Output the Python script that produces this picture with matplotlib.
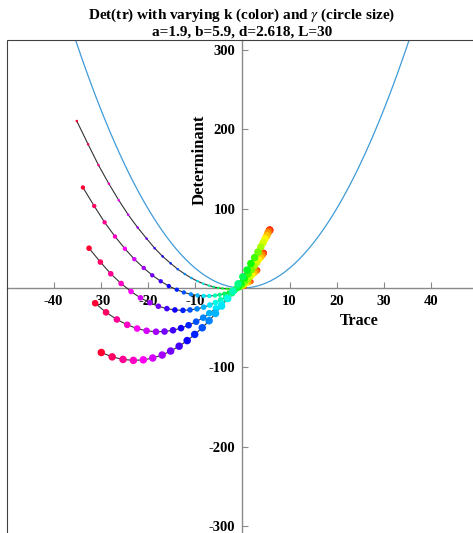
import colorsys
import numpy as np
import matplotlib
matplotlib.use("Agg")
import matplotlib.pyplot as plt
from matplotlib.patches import Rectangle

plt.rcParams['font.family'] = ['Liberation Serif', 'DejaVu Serif']
plt.rcParams['mathtext.fontset'] = 'stix'
plt.rcParams['axes.unicode_minus'] = False

# mode index n (k = n*pi/L), one dot per n on every curve
modes = list(range(31))

# circle size parameter of each curve
gammas = [0.5, 1.5, 2.5, 3.5, 4.5]

# trace / determinant, one list per gamma
tr_g1 = [0.6, 0.6, 0.5, 0.3, 0.0, -0.3, -0.8, -1.3, -1.9, -2.6, -3.3, -4.2, -5.1, -6.1, -7.1,
         -8.3, -9.5, -10.8, -12.2, -13.7, -15.2, -16.9, -18.6, -20.3, -22.2, -24.2, -26.2,
         -28.3, -30.5, -32.7, -35.1]
det_g1 = [0.90, 0.85, 0.71, 0.47, 0.17, -0.16, -0.51, -0.82, -1.04, -1.13, -1.00, -0.60, 0.15,
          1.35, 3.09, 5.47, 8.60, 12.59, 17.58, 23.69, 31.06, 39.84, 50.19, 62.27, 76.24, 92.30,
          110.61, 131.37, 154.79, 181.07, 210.43]

tr_g2 = [1.9, 1.9, 1.8, 1.6, 1.3, 0.9, 0.5, 0.0, -0.6, -1.3, -2.0, -2.9, -3.8, -4.8, -5.8,
         -7.0, -8.2, -9.5, -10.9, -12.4, -13.9, -15.6, -17.3, -19.1, -20.9, -22.9, -24.9,
         -27.0, -29.2, -31.4, -33.8]
det_g2 = [8.12, 7.97, 7.52, 6.78, 5.78, 4.53, 3.07, 1.45, -0.29, -2.09, -3.89, -5.62, -7.18,
          -8.51, -9.50, -10.06, -10.06, -9.40, -7.96, -5.59, -2.16, 2.48, 8.48, 16.01, 25.24,
          36.34, 49.49, 64.90, 82.76, 103.28, 126.67]

tr_g3 = [3.2, 3.2, 3.1, 2.9, 2.6, 2.2, 1.8, 1.3, 0.7, 0.0, -0.7, -1.6, -2.5, -3.5, -4.6,
         -5.7, -6.9, -8.2, -9.6, -11.1, -12.6, -14.3, -16.0, -17.8, -19.6, -21.6, -23.6,
         -25.7, -27.9, -30.1, -32.5]
det_g3 = [22.56, 22.31, 21.56, 20.31, 18.60, 16.44, 13.87, 10.94, 7.68, 4.16, 0.44, -3.41,
          -7.30, -11.16, -14.88, -18.36, -21.50, -24.18, -26.27, -27.64, -28.15, -27.66,
          -26.00, -23.02, -18.55, -12.40, -4.40, 5.65, 17.94, 32.70, 50.13]

tr_g4 = [4.5, 4.5, 4.4, 4.2, 3.9, 3.5, 3.1, 2.6, 2.0, 1.3, 0.5, -0.3, -1.2, -2.2, -3.3,
         -4.4, -5.6, -7.0, -8.3, -9.8, -11.4, -13.0, -14.7, -16.5, -18.3, -20.3, -22.3,
         -24.4, -26.6, -28.9, -31.2]
det_g4 = [44.22, 43.87, 42.81, 41.06, 38.64, 35.57, 31.89, 27.64, 22.87, 17.63, 11.99, 6.02,
          -0.20, -6.58, -13.03, -19.45, -25.72, -31.73, -37.36, -42.47, -46.93, -50.58,
          -53.27, -54.84, -55.12, -53.92, -51.08, -46.39, -39.65, -30.65, -19.19]

tr_g5 = [5.8, 5.8, 5.6, 5.4, 5.2, 4.8, 4.4, 3.9, 3.3, 2.6, 1.8, 1.0, 0.1, -0.9, -2.0,
         -3.1, -4.4, -5.7, -7.05, -8.5, -10.1, -11.7, -13.4, -15.2, -17.0, -19.0, -21.0,
         -23.1, -25.3, -27.6, -29.9]
det_g5 = [73.10, 72.65, 71.29, 69.03, 65.90, 61.93, 57.13, 51.57, 45.28, 38.32, 30.76, 22.67,
          14.13, 5.22, -3.96, -13.31, -22.72, -32.07, -41.23, -50.09, -58.48, -66.28, -73.32,
          -79.43, -84.46, -88.22, -90.53, -91.20, -90.02, -86.79, -81.29]

traces = [tr_g1, tr_g2, tr_g3, tr_g4, tr_g5]
dets = [det_g1, det_g2, det_g3, det_g4, det_g5]

# boundary det = tr^2/4 (half, from tr=0 outward)
bnd_half = [0, 0.25, 1, 2.25, 4, 6.25, 9, 12.25, 16, 20.25, 25, 30.25, 36, 42.25, 49, 56.25,
            64, 72.25, 81, 90.25, 100, 110.25, 121, 132.25, 144, 156.25, 169, 182.25, 196,
            210.25, 225, 240.25, 256, 272.25, 289, 306.25, 324]
bnd_tr = list(range(-36, 37))
bnd_det = bnd_half[::-1] + bnd_half[1:]

fig = plt.figure(figsize=(4.73, 5.33), dpi=100)
ax = fig.add_axes([6.5/473, -3/533, 471.7/473, 496/533])

ax.plot(bnd_tr, bnd_det, color='#3f9bd8', lw=0.9, zorder=2)

colors = [colorsys.hsv_to_rgb(n/31, 1, 1) for n in modes]
for g, tr, de in zip(gammas, traces, dets):
    ax.plot(tr, de, color='#333333', lw=0.8, zorder=3)
    ax.scatter(tr, de, s=6.5*g, c=colors, edgecolors='none', zorder=4)

ax.set_xlim(-50, 50)
ax.set_ylim(-312.5, 312.5)

# axes through the origin
for side in ['top', 'right']:
    ax.spines[side].set_visible(False)
ax.spines['left'].set_position('zero')
ax.spines['bottom'].set_position('zero')
for side in ['left', 'bottom']:
    ax.spines[side].set_color('#8a8a8a')
    ax.spines[side].set_linewidth(1.0)
ax.add_patch(Rectangle((0, 0), 1, 1, transform=ax.transAxes, fill=False,
                       ec='#404040', lw=0.8, clip_on=False, zorder=5))

ax.set_xticks([-40, -30, -20, -10, 10, 20, 30, 40])
ax.set_yticks([-300, -200, -100, 100, 200, 300])
ax.tick_params(direction='in', length=4, width=0.8, color='#8a8a8a', labelsize=10.5, pad=5)
for lab in ax.get_xticklabels() + ax.get_yticklabels():
    lab.set_fontweight('bold')

ax.text(0.747, 0.4335, 'Trace', transform=ax.transAxes, ha='center', va='center',
        fontsize=11.5, fontweight='bold')
ax.text(0.410, 0.758, 'Determinant', transform=ax.transAxes, ha='center', va='center',
        rotation=90, fontsize=12, fontweight='bold')

fig.text(0.512, 0.958, 'Det(tr) with varying k (color) and $\\gamma$ (circle size)\n'
         'a=1.9, b=5.9, d=2.618, L=30', ha='center', va='center', fontsize=11,
         fontweight='bold', linespacing=1.1)

fig.savefig('out.png', dpi=100)
